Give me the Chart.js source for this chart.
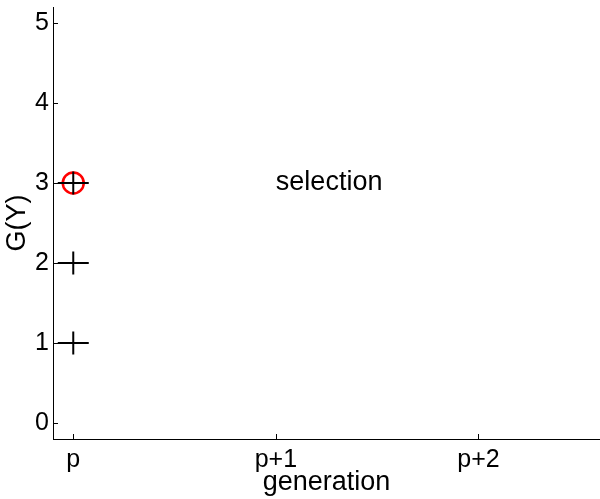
<!DOCTYPE html>
<html>
<head>
<meta charset="utf-8">
<script src="https://cdn.jsdelivr.net/npm/chart.js@4/dist/chart.umd.min.js"></script>
<style>
  html, body { margin: 0; padding: 0; background: #fff; }
  #wrap { width: 600px; height: 499px; }
</style>
</head>
<body>
<div id="wrap"><canvas id="genChart"></canvas></div>
<script>
// generations on the x axis
var genLabels = ['p', 'p+1', 'p+2'];
var genValues = [0, 1, 2];
var yTicks = [0, 1, 2, 3, 4, 5];

// individuals in generation p
var popX = [0, 0, 0];
var popY = [1, 2, 3];

// selected individual
var selX = [0];
var selY = [3];

// step annotation
var stepText = 'selection';
var stepX = 1;
var stepY = 3;

var FONT = '"Liberation Sans", Arial, sans-serif';

function toPoints(xs, ys) {
    var pts = [];
    for (var i = 0; i < xs.length; i++) {
        pts.push({ x: xs[i], y: ys[i] });
    }
    return pts;
}

// ticks drawn inside the axes, matlab style
var innerTicks = {
    id: 'innerTicks',
    afterDraw: function (chart) {
        var ctx = chart.ctx;
        var xs = chart.scales.x, ys = chart.scales.y;
        var len = 5;
        ctx.save();
        ctx.strokeStyle = '#000';
        ctx.lineWidth = 1;
        ctx.beginPath();
        xs.ticks.forEach(function (t) {
            var px = Math.round(xs.getPixelForValue(t.value)) + 0.5;
            ctx.moveTo(px, ys.bottom);
            ctx.lineTo(px, ys.bottom - len);
        });
        ys.ticks.forEach(function (t) {
            var py = Math.round(ys.getPixelForValue(t.value)) + 0.5;
            ctx.moveTo(xs.left, py);
            ctx.lineTo(xs.left + len, py);
        });
        ctx.stroke();
        ctx.restore();
    }
};

var stepLabel = {
    id: 'stepLabel',
    afterDatasetsDraw: function (chart) {
        var ctx = chart.ctx;
        ctx.save();
        ctx.fillStyle = '#000';
        ctx.font = '27px ' + FONT;
        ctx.textAlign = 'left';
        ctx.textBaseline = 'middle';
        ctx.fillText(stepText, chart.scales.x.getPixelForValue(stepX), chart.scales.y.getPixelForValue(stepY));
        ctx.restore();
    }
};

new Chart(document.getElementById('genChart'), {
    type: 'scatter',
    data: {
        datasets: [{
            data: toPoints(popX, popY),
            pointStyle: 'cross',
            pointRadius: 11.5,
            borderColor: '#000',
            borderWidth: 2,
            showLine: false
        }, {
            data: toPoints(popX, popY),
            pointStyle: 'line',
            pointRadius: 15.5,
            borderColor: '#000',
            borderWidth: 2,
            showLine: false
        }, {
            data: toPoints(selX, selY),
            pointStyle: 'circle',
            pointRadius: 10.5,
            borderColor: '#ff0000',
            backgroundColor: 'rgba(0,0,0,0)',
            borderWidth: 2.5,
            showLine: false
        }]
    },
    options: {
        responsive: true,
        maintainAspectRatio: false,
        animation: false,
        events: [],
        layout: {
            autoPadding: false,
            padding: { top: 7, right: 0, left: 0, bottom: 0 }
        },
        plugins: {
            legend: { display: false },
            tooltip: { enabled: false }
        },
        scales: {
            x: {
                type: 'linear',
                min: -0.1,
                max: 2.6,
                afterBuildTicks: function (scale) {
                    scale.ticks = genValues.map(function (v) { return { value: v }; });
                },
                afterFit: function (scale) {
                    scale.height = 60;
                    scale.paddingLeft = 0;
                    scale.paddingRight = 0;
                },
                grid: { display: false, drawTicks: false },
                border: { display: true, color: '#000', width: 1 },
                ticks: {
                    color: '#000',
                    padding: 6,
                    maxRotation: 0,
                    font: { family: FONT, size: 25 },
                    callback: function (v) {
                        var i = genValues.indexOf(v);
                        return i >= 0 ? genLabels[i] : '';
                    }
                },
                title: {
                    display: true,
                    text: 'generation',
                    color: '#000',
                    padding: 0,
                    font: { family: FONT, size: 27 }
                }
            },
            y: {
                type: 'linear',
                min: -0.2,
                max: 5.2,
                afterBuildTicks: function (scale) {
                    scale.ticks = yTicks.map(function (v) { return { value: v }; });
                },
                afterFit: function (scale) {
                    scale.width = 53;
                    scale.paddingTop = 0;
                    scale.paddingBottom = 0;
                },
                grid: { display: false, drawTicks: false },
                border: { display: true, color: '#000', width: 1 },
                ticks: {
                    color: '#000',
                    padding: 4,
                    font: { family: FONT, size: 25 }
                },
                title: {
                    display: true,
                    text: 'G(Y)',
                    color: '#000',
                    padding: 1,
                    font: { family: FONT, size: 27 }
                }
            }
        }
    },
    plugins: [innerTicks, stepLabel]
});
</script>
</body>
</html>
